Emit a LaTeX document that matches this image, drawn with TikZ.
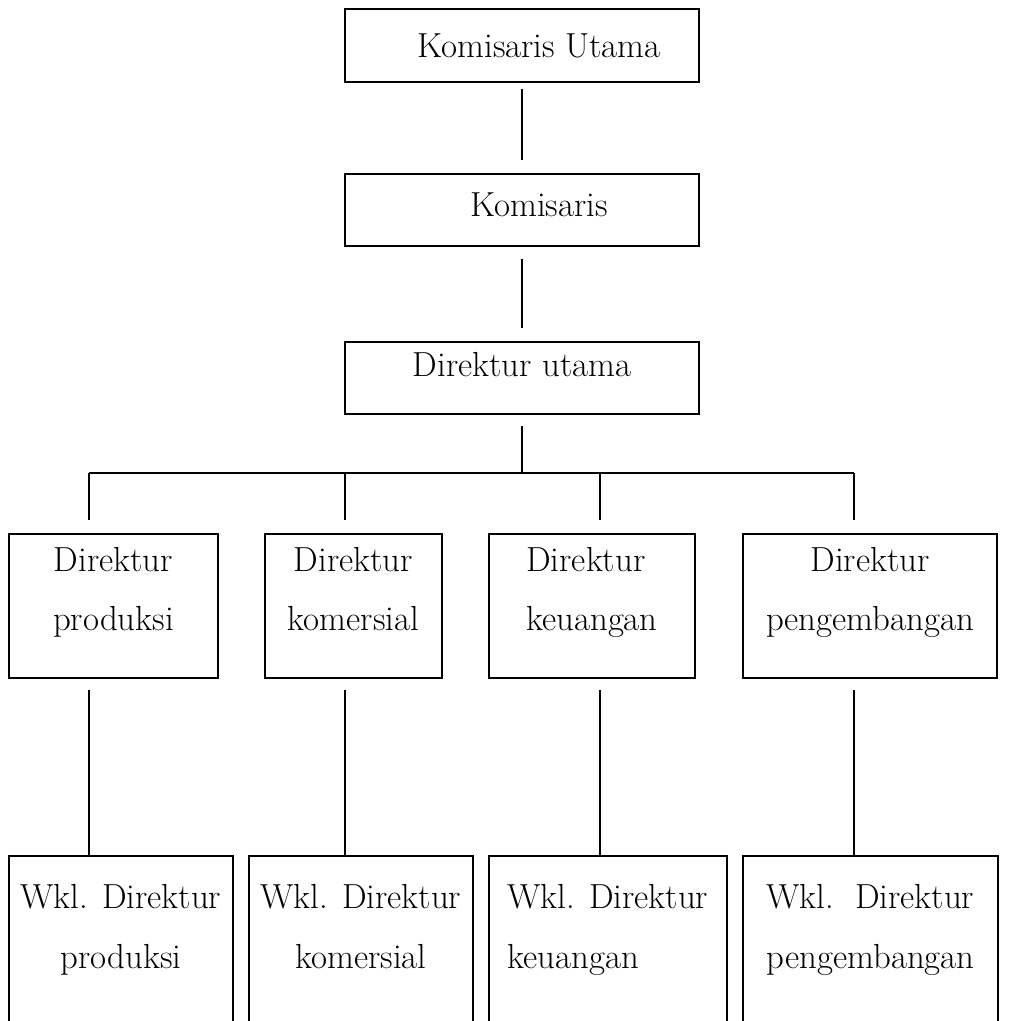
\documentclass[tikz,border=0pt]{standalone}
\usepackage{tikz}
\usetikzlibrary{positioning, calc}

\begin{document}
\begin{tikzpicture}[
  x=0.5pt, y=-0.5pt,
  line/.style={line width=1pt},
  gapstart/.style={line, shorten <=5.5pt},
  gapend/.style={line, shorten >=6.5pt},
  box/.style={rectangle, draw=black, line width=1pt, inner sep=0pt,
              align=center, font=\fontsize{17.4}{29.5}\selectfont},
  topbox/.style={box, minimum width=177pt, minimum height=36pt},
  dirbox/.style={box, minimum height=72pt, text depth=17pt},
  wklbox/.style={rectangle, inner xsep=0pt, inner ysep=14pt, anchor=north,
                 align=center, font=\fontsize{17.4}{30}\selectfont}
]
\useasboundingbox (0,0) rectangle (1008,1021);

% Top of the chart
\node[topbox, minimum height=36.5pt] (ku) at (522,45.5) {\hspace*{17pt}Komisaris Utama};
\node[topbox, text depth=5pt] (kom) at (522,210) {\hspace*{17pt}Komisaris};
\node[topbox, text depth=14pt] (du) at (522,378) {Direktur utama};

\draw[line, shorten <=3pt, shorten >=6.5pt] (ku) -- (kom);
\draw[line, shorten <=6pt, shorten >=6.5pt] (kom) -- (du);

% Bus line under Direktur utama
\coordinate (bus) at (522,473);
\coordinate (c1) at (89,473);
\coordinate (c2) at (345,473);
\coordinate (c3) at (600,473);
\coordinate (c4) at (854,473);
\draw[gapstart] (du) -- (bus);
\draw[line] (c1) -- (c4);

% Directors
\node[dirbox, minimum width=104.5pt] (dprod) at (113.5,606) {Direktur\\produksi};
\node[dirbox, minimum width=88.5pt]  (dkom)  at (353.5,606) {Direktur\\komersial};
\node[dirbox, minimum width=103pt, align=left] (dkeu) at (592,606) {Direktur\\keuangan};
\node[dirbox, minimum width=127pt]   (dpeng) at (870,606) {Direktur\\pengembangan};

\draw[gapend] (c1) -- (c1 |- dprod.north);
\draw[gapend] (c2) -- (c2 |- dkom.north);
\draw[gapend] (c3) -- (c3 |- dkeu.north);
\draw[gapend] (c4) -- (c4 |- dpeng.north);

% Deputy directors (boxes open at the bottom)
\coordinate (bot) at (0,1021);
\node[wklbox, minimum width=112pt]   (wprod) at (121,856)   {Wkl. Direktur\\produksi};
\node[wklbox, minimum width=112pt]   (wkom)  at (361,856)   {Wkl. Direktur\\komersial};
\node[wklbox, minimum width=119pt, align=left] (wkeu) at (608,856) {Wkl. Direktur\\keuangan};
\node[wklbox, minimum width=127.5pt] (wpeng) at (870.5,856) {Wkl.\ \ Direktur\\pengembangan};

\draw[line] (wprod.north west |- bot) -- (wprod.north west) -- (wprod.north east) -- (wprod.north east |- bot);
\draw[line] (wkom.north west |- bot) -- (wkom.north west) -- (wkom.north east) -- (wkom.north east |- bot);
\draw[line] (wkeu.north west |- bot) -- (wkeu.north west) -- (wkeu.north east) -- (wkeu.north east |- bot);
\draw[line] (wpeng.north west |- bot) -- (wpeng.north west) -- (wpeng.north east) -- (wpeng.north east |- bot);

\draw[gapstart] (c1 |- dprod.south) -- (c1 |- wprod.north);
\draw[gapstart] (c2 |- dkom.south) -- (c2 |- wkom.north);
\draw[gapstart] (c3 |- dkeu.south) -- (c3 |- wkeu.north);
\draw[gapstart] (c4 |- dpeng.south) -- (c4 |- wpeng.north);

\end{tikzpicture}
\end{document}
